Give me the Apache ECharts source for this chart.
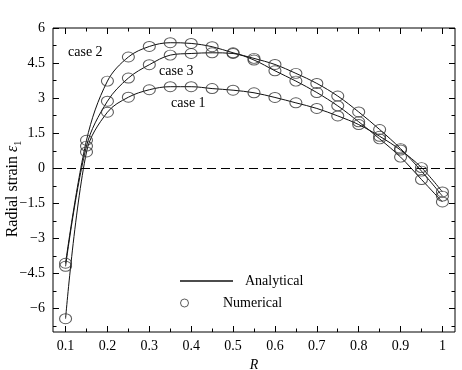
<!DOCTYPE html>
<html>
<head>
<meta charset="utf-8">
<script src="https://cdn.jsdelivr.net/npm/echarts@6/dist/echarts.min.js"></script>
<style>
html, body { margin: 0; padding: 0; background: #fff; }
#main { width: 462px; height: 370px; }
</style>
</head>
<body>
<div id="main"></div>
<script>
var R = [0.1, 0.15, 0.2, 0.25, 0.3, 0.35, 0.4, 0.45, 0.5, 0.55, 0.6, 0.65, 0.7, 0.75, 0.8, 0.85, 0.9, 0.95, 1.0];
var case1 = [-6.43, 0.7, 2.4, 3.04, 3.36, 3.49, 3.49, 3.41, 3.34, 3.23, 3.03, 2.8, 2.56, 2.24, 1.87, 1.37, 0.78, 0.03, -1.01];
var case2 = [-4.06, 1.2, 3.73, 4.76, 5.21, 5.37, 5.34, 5.2, 4.94, 4.7, 4.44, 4.06, 3.63, 3.09, 2.41, 1.66, 0.84, -0.12, -1.19];
var case3 = [-4.19, 0.95, 2.87, 3.86, 4.43, 4.84, 4.91, 4.94, 4.91, 4.63, 4.17, 3.73, 3.24, 2.67, 1.99, 1.26, 0.48, -0.48, -1.44];

var xMajor = [0.1, 0.2, 0.3, 0.4, 0.5, 0.6, 0.7, 0.8, 0.9, 1];
var xMinor = [0.15, 0.25, 0.35, 0.45, 0.55, 0.65, 0.75, 0.85, 0.95];
var yMajor = [-6, -4.5, -3, -1.5, 0, 1.5, 3, 4.5, 6];
var yMinor = [-6.75, -5.25, -3.75, -2.25, -0.75, 0.75, 2.25, 3.75, 5.25];

var font = 'Liberation Serif';
var chart = echarts.init(document.getElementById('main'));

function pairs(ys) {
    return R.map(function (r, i) { return [r, ys[i]]; });
}

function axis(dim, pos, ticks, len, labels) {
    var a = {
        type: 'value',
        position: pos,
        min: dim === 'x' ? 0.07 : -7,
        max: dim === 'x' ? 1.03 : 6,
        axisLine: { show: false, onZero: false },
        splitLine: { show: false },
        axisTick: { inside: true, length: len, customValues: ticks, lineStyle: { color: '#000', width: 1 } },
        axisLabel: { show: false }
    };
    if (labels) {
        a.axisLabel = {
            show: true,
            customValues: labels,
            color: '#000',
            fontFamily: font,
            fontSize: 14,
            margin: dim === 'x' ? 7 : 8,
            formatter: function (v) { return String(v).replace('-', '\u2212'); }
        };
    }
    return a;
}

var xBottom = axis('x', 'bottom', xMajor, 6, xMajor);
xBottom.name = 'R';
xBottom.nameLocation = 'middle';
xBottom.nameGap = 26;
xBottom.nameTextStyle = { fontFamily: font, fontSize: 14, fontStyle: 'italic', color: '#000' };

var yLeft = axis('y', 'left', yMajor, 6, yMajor);
yLeft.name = '{a|Radial strain }{e|\u03b5}{s|1}';
yLeft.nameLocation = 'middle';
yLeft.nameMoveOverlap = false;
yLeft.nameGap = 30;
yLeft.nameTextStyle = {
    fontFamily: font, fontSize: 16, color: '#000', padding: [0, 18, 0, 0],
    rich: {
        a: { fontFamily: font, fontSize: 16, color: '#000' },
        e: { fontFamily: font, fontSize: 16, color: '#000', fontStyle: 'italic' },
        s: { fontFamily: font, fontSize: 10, color: '#000', padding: [10, 0, 0, 0], verticalAlign: 'bottom' }
    }
};

function lineSeries(ys, withZero) {
    var s = {
        name: 'Analytical',
        type: 'line',
        data: pairs(ys),
        smooth: 0.35,
        showSymbol: false,
        color: '#111',
        lineStyle: { color: '#111', width: 1 },
        silent: true,
        z: 3
    };
    if (withZero) {
        s.markLine = {
            silent: true,
            symbol: 'none',
            label: { show: false },
            lineStyle: { color: '#000', width: 1, type: [9, 5] },
            data: [{ yAxis: 0 }]
        };
    }
    return s;
}

function pointSeries(ys) {
    return {
        name: 'Numerical',
        type: 'scatter',
        data: pairs(ys),
        symbol: 'circle',
        symbolSize: [12, 10],
        itemStyle: { color: 'rgba(0,0,0,0)', borderColor: '#333', borderWidth: 1 },
        silent: true,
        z: 4
    };
}

var option = {
    animation: false,
    backgroundColor: '#fff',
    grid: {
        left: 53, right: 7, top: 28, bottom: 38,
        outerBoundsMode: 'none',
        show: true, borderColor: '#000', borderWidth: 1, backgroundColor: 'transparent'
    },
    xAxis: [
        xBottom,
        axis('x', 'bottom', xMinor, 3.5),
        axis('x', 'top', xMajor, 6),
        axis('x', 'top', xMinor, 3.5)
    ],
    yAxis: [
        yLeft,
        axis('y', 'left', yMinor, 3.5),
        axis('y', 'right', yMajor, 6),
        axis('y', 'right', yMinor, 3.5)
    ],
    legend: [
        {
            data: [{ name: 'Analytical', icon: 'rect' }],
            left: 180, top: 274, padding: 0,
            itemWidth: 53, itemHeight: 1.5,
            selectedMode: false,
            textStyle: { fontFamily: font, fontSize: 14, color: '#000', padding: [0, 0, 0, 7] }
        },
        {
            data: [{ name: 'Numerical', icon: 'circle', itemStyle: { color: 'rgba(0,0,0,0)', borderColor: '#333', borderWidth: 1 } }],
            left: 180, top: 296, padding: 0,
            itemWidth: 53, itemHeight: 8,
            selectedMode: false,
            textStyle: { fontFamily: font, fontSize: 14, color: '#000', padding: [0, 0, 0, 7] }
        }
    ],
    graphic: [
        { type: 'text', left: 68, top: 45, style: { text: 'case 2', font: '14px "Liberation Serif"', fill: '#000' } },
        { type: 'text', left: 159, top: 64, style: { text: 'case 3', font: '14px "Liberation Serif"', fill: '#000' } },
        { type: 'text', left: 171, top: 96, style: { text: 'case 1', font: '14px "Liberation Serif"', fill: '#000' } }
    ],
    series: [
        lineSeries(case1, true),
        lineSeries(case2),
        lineSeries(case3),
        pointSeries(case1),
        pointSeries(case2),
        pointSeries(case3)
    ]
};

chart.setOption(option);
</script>
</body>
</html>
